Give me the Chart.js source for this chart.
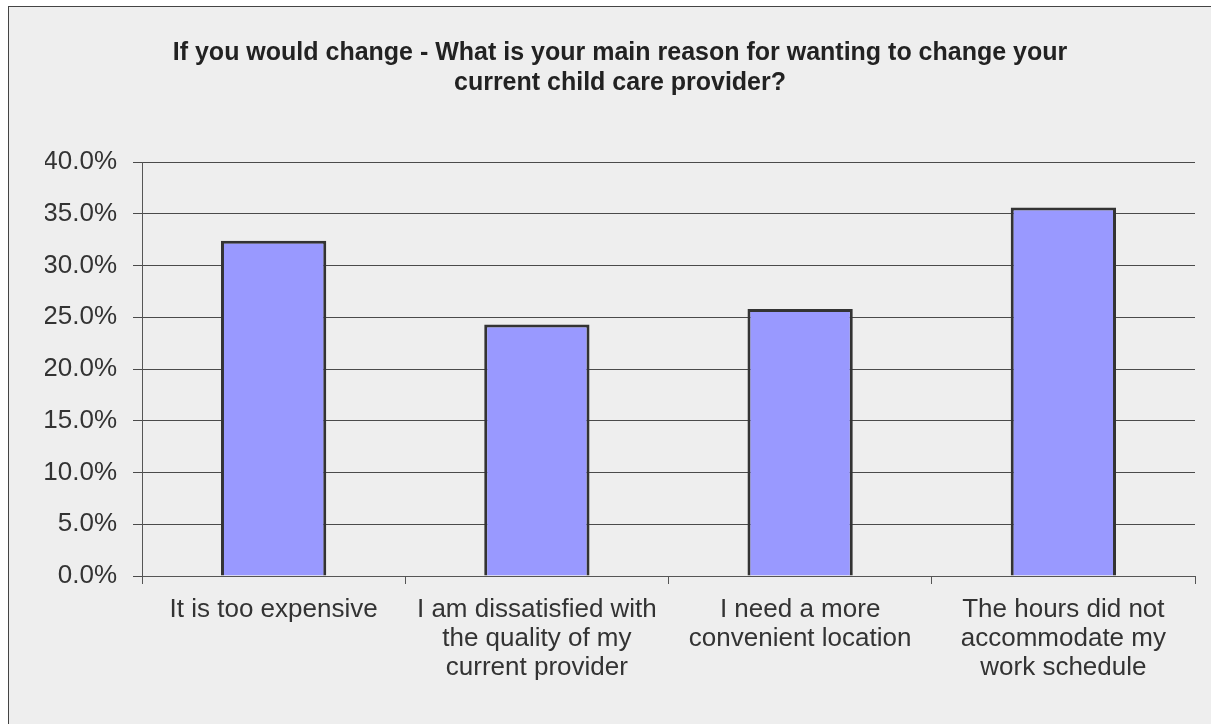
<!DOCTYPE html>
<html>
<head>
<meta charset="utf-8">
<script src="https://cdn.jsdelivr.net/npm/chart.js@4.4.1/dist/chart.umd.min.js"></script>
<style>
  body { margin: 0; background: #ffffff; }
  #frame {
    position: absolute; left: 8px; top: 6px;
    width: 1230px; height: 740px;
    background: #eeeeee; border: 1px solid #444;
  }
  #wrap { position: absolute; left: 0; top: 0; width: 1211px; height: 724px; }
</style>
</head>
<body>
<div id="frame"></div>
<div id="wrap"><canvas id="chart" width="1211" height="724"></canvas></div>
<script>
const titleLines = [
  "If you would change - What is your main reason for wanting to change your",
  "current child care provider?"
];
const categories = [
  ["It is too expensive"],
  ["I am dissatisfied with", "the quality of my", "current provider"],
  ["I need a more", "convenient location"],
  ["The hours did not", "accommodate my", "work schedule"]
];
const shares = [32.4, 24.3, 25.8, 35.6];

const labelFont = { family: "'Liberation Sans', Arial, sans-serif", size: 26 };

const ctx = document.getElementById("chart").getContext("2d");
new Chart(ctx, {
  type: "bar",
  data: {
    labels: categories,
    datasets: [{
      data: shares,
      backgroundColor: "#9999ff",
      borderColor: "#333333",
      borderWidth: 3,
      categoryPercentage: 1,
      barPercentage: 0.4
    }]
  },
  options: {
    responsive: false,
    animation: false,
    layout: { padding: { left: 45, right: 16, top: 0, bottom: 0 } },
    plugins: {
      legend: { display: false },
      tooltip: { enabled: false },
      title: {
        display: true,
        text: titleLines,
        color: "#222222",
        font: { family: "'Liberation Sans', Arial, sans-serif", size: 25, weight: "bold", lineHeight: 1.2 },
        padding: { top: 38, bottom: 64 }
      }
    },
    scales: {
      x: {
        grid: { display: true, drawOnChartArea: false, drawTicks: true, tickLength: 8, color: "#555555" },
        border: { display: true, color: "#555555" },
        ticks: { color: "#333333", font: { ...labelFont, lineHeight: 1.1 }, padding: 12, maxRotation: 0, autoSkip: false },
        afterFit: (scale) => { scale.height = 148; }
      },
      y: {
        min: 0,
        max: 40,
        grid: { color: "#4a4a4a", tickLength: 9 },
        border: { display: true, color: "#555555" },
        ticks: {
          stepSize: 5,
          color: "#333333",
          font: labelFont,
          padding: 16,
          callback: (v) => v.toFixed(1) + "%"
        },
        afterFit: (scale) => { scale.width = 97; }
      }
    }
  }
});
</script>
</body>
</html>
